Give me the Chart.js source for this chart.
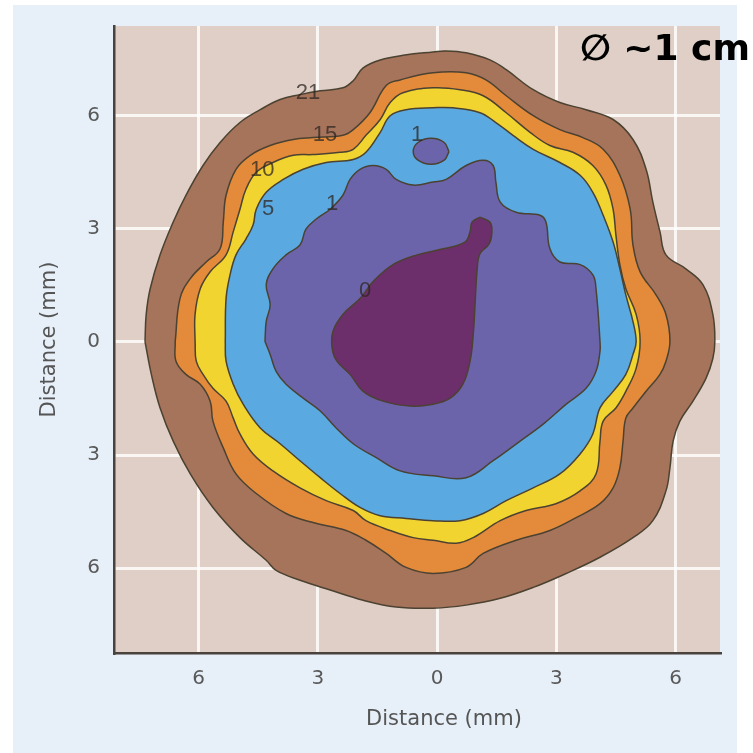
<!DOCTYPE html>
<html>
<head>
<meta charset="utf-8">
<script src="https://cdn.jsdelivr.net/npm/chart.js@4/dist/chart.umd.min.js"></script>
<style>
  html, body { margin: 0; padding: 0; background: #fff; }
  #wrap { width: 753px; height: 753px; }
</style>
</head>
<body>
<div id="wrap"><canvas id="doseMap" width="753" height="753"></canvas></div>
<script>
// contour outlines, distances in mm (x, y)
const level21X = [-7.35,-7.32,-7.22,-6.97,-6.64,-6.32,-5.89,-5.46,-4.96,-4.45,-3.95,-3.45,-2.94,-2.37,-2.11,-1.86,-1.43,-0.81,-0.10,0.23,0.73,1.33,1.74,2.42,3.09,3.75,4.43,4.93,5.26,5.43,5.61,5.76,6.26,6.69,6.94,6.99,6.94,6.77,6.44,6.11,5.94,5.86,5.76,5.43,4.93,4.10,3.25,2.42,1.59,0.73,-0.10,-1.03,-1.86,-2.69,-3.45,-4.05,-4.30,-4.96,-5.64,-6.21,-6.64,-6.97,-7.19];
const level21Y = [0.01,0.73,1.41,2.31,3.18,3.89,4.68,5.29,5.82,6.16,6.43,6.56,6.66,6.74,6.93,7.27,7.48,7.61,7.69,7.72,7.67,7.48,7.22,6.69,6.35,6.16,5.90,5.37,4.58,3.71,2.92,2.31,1.94,1.52,0.73,0.01,-0.44,-0.96,-1.57,-2.10,-2.63,-3.34,-3.95,-4.74,-5.19,-5.71,-6.14,-6.51,-6.80,-6.98,-7.06,-7.03,-6.85,-6.58,-6.32,-6.06,-5.79,-5.19,-4.39,-3.50,-2.63,-1.75,-0.86];

const level15X = [-6.59,-6.47,-6.21,-5.81,-5.46,-5.38,-5.31,-5.06,-4.70,-4.20,-3.62,-3.12,-2.37,-2.11,-1.69,-1.28,-0.93,-0.10,0.73,1.23,1.74,2.42,3.09,3.67,4.18,4.60,4.86,4.93,5.11,5.51,5.76,5.86,5.76,5.61,5.26,4.93,4.75,4.68,4.60,4.43,4.10,3.50,2.84,1.99,1.16,0.73,-0.10,-0.78,-1.28,-1.79,-2.29,-3.12,-3.80,-4.55,-5.06,-5.38,-5.64,-5.71,-5.96,-6.32,-6.57];
const level15Y = [0.01,1.15,1.68,2.12,2.47,3.18,3.89,4.58,4.95,5.21,5.37,5.42,5.48,5.63,6.08,6.80,6.95,7.14,7.14,6.95,6.53,6.00,5.63,5.42,5.11,4.42,3.52,2.57,1.86,1.25,0.73,0.01,-0.51,-0.86,-1.31,-1.75,-2.02,-2.63,-3.34,-3.87,-4.29,-4.66,-5.00,-5.26,-5.61,-5.98,-6.14,-5.98,-5.61,-5.26,-5.00,-4.79,-4.55,-4.02,-3.50,-2.81,-2.10,-1.57,-1.12,-0.86,-0.51];

const level10X = [-6.09,-6.09,-5.96,-5.71,-5.31,-5.13,-4.96,-4.81,-4.55,-4.13,-3.62,-3.12,-2.44,-2.11,-1.79,-1.43,-1.18,-0.86,-0.10,0.58,1.16,1.74,2.34,2.84,3.42,3.92,4.25,4.43,4.50,4.60,4.75,5.01,5.11,5.01,4.75,4.50,4.18,4.10,4.00,3.60,2.99,2.24,1.59,0.91,0.48,-0.10,-0.60,-1.18,-1.79,-2.11,-2.79,-3.45,-4.13,-4.63,-4.96,-5.13,-5.31,-5.64,-5.89,-6.06];
const level10Y = [0.01,0.73,1.41,1.86,2.31,2.92,3.52,4.05,4.50,4.76,4.95,4.97,5.03,5.11,5.48,5.90,6.35,6.61,6.74,6.69,6.53,6.08,5.56,5.21,5.03,4.68,4.16,3.52,2.84,2.05,1.41,0.73,0.01,-0.70,-1.31,-1.75,-2.10,-2.63,-3.50,-3.95,-4.29,-4.47,-4.74,-5.19,-5.34,-5.26,-5.19,-5.00,-4.74,-4.47,-4.21,-3.87,-3.42,-2.97,-2.44,-2.02,-1.57,-1.23,-0.86,-0.51];

const level5X = [-5.33,-5.31,-5.21,-5.06,-4.81,-4.63,-4.55,-4.30,-3.87,-3.37,-2.79,-2.11,-1.79,-1.43,-1.18,-0.78,-0.10,0.40,1.08,1.48,1.91,2.42,3.09,3.60,3.92,4.18,4.43,4.60,4.75,4.93,5.01,4.93,4.75,4.43,4.10,3.92,3.60,3.09,2.42,1.74,1.16,0.58,-0.10,-0.78,-1.43,-1.94,-2.44,-2.94,-3.45,-3.95,-4.45,-4.88,-5.13,-5.31];
const level5Y = [0.01,1.15,1.78,2.31,2.73,3.10,3.52,3.97,4.31,4.58,4.76,4.84,5.03,5.56,6.00,6.16,6.21,6.21,6.08,5.82,5.48,5.11,4.76,4.42,3.97,3.36,2.65,1.94,1.25,0.54,0.01,-0.33,-0.86,-1.31,-1.75,-2.44,-2.97,-3.50,-3.87,-4.21,-4.55,-4.74,-4.74,-4.68,-4.61,-4.39,-4.02,-3.60,-3.15,-2.70,-2.28,-1.65,-1.12,-0.51];

const level1X = [-4.33,-4.30,-4.20,-4.30,-4.13,-3.80,-3.45,-3.30,-3.04,-2.69,-2.37,-2.19,-1.94,-1.61,-1.28,-1.03,-0.60,-0.10,0.23,0.73,1.16,1.41,1.48,1.59,1.99,2.59,2.74,2.84,3.09,3.60,3.92,4.00,4.10,4.10,4.00,3.75,3.25,2.67,2.09,1.41,0.73,-0.10,-0.93,-1.53,-2.11,-2.54,-2.94,-3.37,-3.80,-4.05,-4.20];
const level1Y = [0.01,0.54,0.99,1.52,1.94,2.31,2.57,2.99,3.26,3.52,3.89,4.31,4.58,4.68,4.58,4.31,4.16,4.24,4.31,4.68,4.82,4.68,4.24,3.71,3.44,3.36,3.18,2.47,2.12,2.05,1.78,1.41,0.01,-0.25,-0.78,-1.23,-1.65,-2.18,-2.63,-3.15,-3.60,-3.55,-3.42,-3.07,-2.70,-2.28,-1.83,-1.49,-1.12,-0.78,-0.33];

const islandX = [0.30,0.18,-0.15,-0.48,-0.60,-0.48,-0.15,0.18];
const islandY = [5.05,4.82,4.71,4.82,5.05,5.29,5.40,5.29];

const level0X = [1.08,1.33,1.38,1.31,1.08,1.01,0.96,0.91,0.83,0.65,0.33,-0.10,-0.68,-1.36,-1.86,-2.19,-2.52,-2.64,-2.62,-2.37,-1.94,-1.61,-1.11,-0.50,0.15,0.70,0.83,0.88];
const level0Y = [3.31,3.18,2.92,2.60,2.34,1.94,1.07,0.20,-0.51,-1.12,-1.49,-1.65,-1.70,-1.57,-1.31,-0.86,-0.51,-0.17,0.28,0.73,1.15,1.60,2.05,2.31,2.47,2.65,2.92,3.18];

// contour level labels
const labelText = ["21", "15", "10", "5", "1", "1", "0"];
const labelX = [-3.25, -2.82, -4.40, -4.25, -2.64, -0.50, -1.81];
const labelY = [6.61, 5.50, 4.55, 3.52, 3.66, 5.50, 1.36];

const tickValues = [-6, -3, 0, 3, 6];

function outline(xs, ys) {
  const pts = xs.map((x, i) => ({ x: x, y: ys[i] }));
  pts.push({ x: xs[0], y: ys[0] });
  return pts;
}

function contour(xs, ys, color) {
  return {
    data: outline(xs, ys),
    showLine: true,
    fill: 'shape',
    backgroundColor: color,
    borderColor: '#4b4232',
    borderWidth: 1.5,
    pointRadius: 0,
    tension: 0.4
  };
}

// innermost first: Chart.js draws dataset 0 on top
const datasets = [
  contour(level0X, level0Y, '#6d2e6c'),
  contour(islandX, islandY, '#6c64aa'),
  contour(level1X, level1Y, '#6c64aa'),
  contour(level5X, level5Y, '#5aa9e0'),
  contour(level10X, level10Y, '#f2d430'),
  contour(level15X, level15Y, '#e38b3b'),
  contour(level21X, level21Y, '#a6735b')
];

const backdrop = {
  id: 'backdrop',
  beforeDraw(chart) {
    const { ctx, chartArea } = chart;
    ctx.save();
    ctx.fillStyle = '#ffffff';
    ctx.fillRect(0, 0, chart.width, chart.height);
    ctx.fillStyle = '#e7eff8';
    ctx.fillRect(13, 5, 724, 748);
    ctx.fillStyle = '#dfcfc6';
    ctx.fillRect(chartArea.left, chartArea.top, chartArea.right - chartArea.left, chartArea.bottom - chartArea.top);
    ctx.restore();
  }
};

const texts = {
  id: 'texts',
  afterDatasetsDraw(chart) {
    const { ctx, scales } = chart;
    ctx.save();
    ctx.font = '22px "Liberation Sans", Arial, sans-serif';
    ctx.fillStyle = 'rgba(45, 38, 34, 0.75)';
    ctx.textAlign = 'center';
    ctx.textBaseline = 'middle';
    labelText.forEach((t, i) => {
      ctx.fillText(t, scales.x.getPixelForValue(labelX[i]), scales.y.getPixelForValue(labelY[i]));
    });
    ctx.restore();
  },
  afterDraw(chart) {
    const { ctx } = chart;
    ctx.save();
    // x axis title sits right of the plot centre in the original
    ctx.font = '21px "DejaVu Sans", sans-serif';
    ctx.fillStyle = '#555555';
    ctx.textAlign = 'center';
    ctx.textBaseline = 'middle';
    ctx.fillText('Distance (mm)', 444, 720);
    ctx.font = 'bold 36px "DejaVu Sans", sans-serif';
    ctx.fillStyle = '#000000';
    ctx.textAlign = 'left';
    ctx.textBaseline = 'alphabetic';
    ctx.fillText('\u2205 ~1 cm', 580, 60);
    ctx.restore();
  }
};

const tickFont = { family: '"DejaVu Sans", sans-serif', size: 20 };
const titleFont = { family: '"DejaVu Sans", sans-serif', size: 21 };

new Chart(document.getElementById('doseMap'), {
  type: 'scatter',
  data: { datasets: datasets },
  options: {
    responsive: false,
    devicePixelRatio: 1,
    animation: false,
    events: [],
    layout: { padding: { left: 0, top: 23, right: 33, bottom: 0 } },
    plugins: { legend: { display: false }, tooltip: { enabled: false } },
    scales: {
      x: {
        type: 'linear',
        min: -8.13,
        max: 7.12,
        afterBuildTicks: s => { s.ticks = tickValues.map(v => ({ value: v })); },
        afterFit: s => { s.height = 100; },
        ticks: { callback: v => Math.abs(v), font: tickFont, color: '#595959', padding: 14 },
        grid: { color: 'rgba(255,255,255,0.8)', lineWidth: 3, drawTicks: false },
        border: { display: true, color: '#4a423c', width: 2.5 }
      },
      y: {
        type: 'linear',
        min: -8.25,
        max: 8.38,
        afterBuildTicks: s => { s.ticks = tickValues.map(v => ({ value: v })); },
        afterFit: s => { s.width = 114; },
        ticks: { callback: v => Math.abs(v), font: tickFont, color: '#595959', padding: 14 },
        grid: { color: 'rgba(255,255,255,0.8)', lineWidth: 3, drawTicks: false },
        border: { display: true, color: '#4a423c', width: 2.5 },
        title: { display: true, text: 'Distance (mm)', font: titleFont, color: '#555555', padding: { top: 37 } }
      }
    }
  },
  plugins: [backdrop, texts]
});
</script>
</body>
</html>
